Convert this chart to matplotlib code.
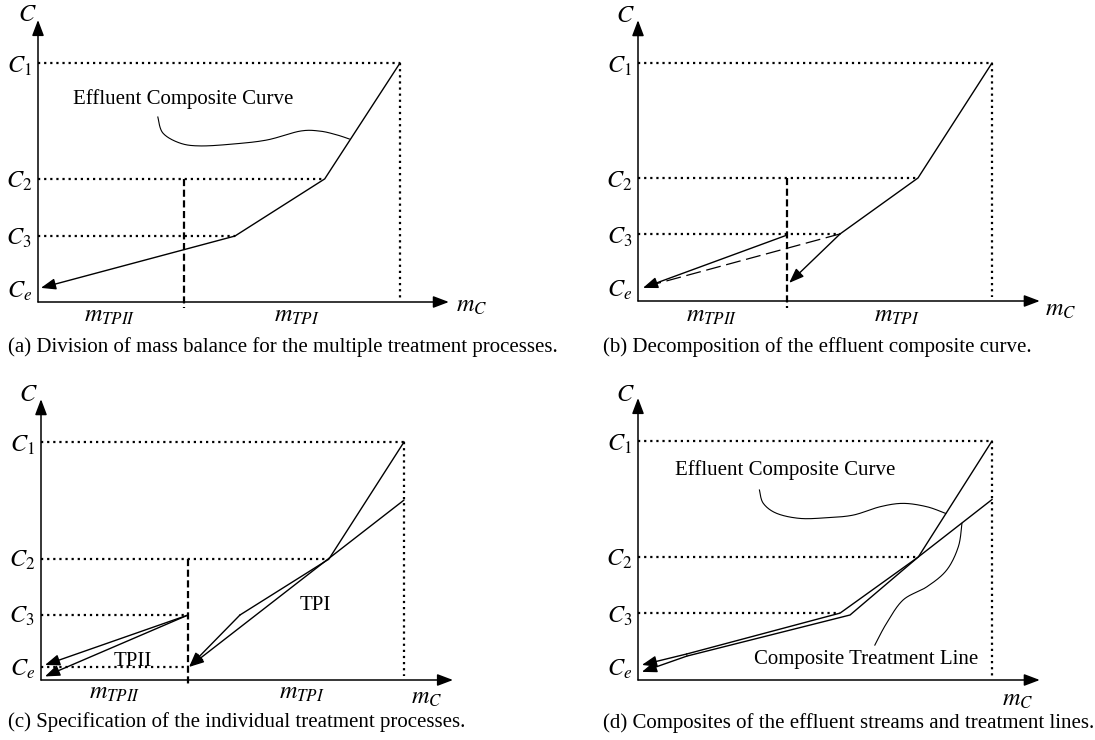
import numpy as np
import matplotlib
matplotlib.use("Agg")
import matplotlib.pyplot as plt

# ---------------- data (schematic units: C1 = 10, total mass = 10) ----------------
conc_levels = [10.0, 5.15, 2.8, 0.55]          # C1, C2, C3, Ce
conc_labels = ["$C_1$", "$C_2$", "$C_3$", "$C_e$"]
m_total = 10.0
treat_top = 7.55                               # treatment line at m_total

# (a) effluent composite curve
a_mass = [10.0, 7.92, 5.44, 0.08]
a_conc = [10.0, 5.15, 2.76, 0.59]
a_split = 4.03

# (b) decomposition
b_mass = [10.0, 7.91, 5.71]
b_conc = [10.0, 5.17, 2.82]
b_split = 4.21
b_tpi_end = [4.27, 0.76]
b_tpii_start = [4.21, 2.77]
b_tpii_end = [0.14, 0.55]
b_dash_end = [0.45, 0.70]

# (c) individual treatment processes
c_mass = [10.0, 7.93, 5.48, 4.08]
c_conc = [10.0, 5.08, 2.73, 0.55]
c_split = 4.05
c_tpi_mass = [10.0, 4.08]
c_tpi_conc = [7.56, 0.55]
c_tpii_start = [4.05, 2.73]
c_tpii_ends_mass = [0.11, 0.11]
c_tpii_ends_conc = [0.63, 0.15]

# (d) composites
d_eff_mass = [10.0, 7.92, 5.99, 1.38, 0.11]
d_eff_conc = [10.0, 5.15, 2.72, 1.00, 0.34]
d_trt_mass = [10.0, 7.92, 5.71, 1.38, 0.11]
d_trt_conc = [7.55, 5.15, 2.80, 1.09, 0.63]

captions = [
    "(a) Division of mass balance for the multiple treatment processes.",
    "(b) Decomposition of the effluent composite curve.",
    "(c) Specification of the individual treatment processes.",
    "(d) Composites of the effluent streams and treatment lines.",
]

# leader curves (annotation guides)
a_leader = [(3.31, 7.74), (3.45, 7.07), (3.92, 6.65), (4.48, 6.53), (5.39, 6.61),
            (6.33, 6.78), (7.24, 7.15), (7.79, 7.15), (8.26, 6.99), (8.60, 6.82)]
d_leader_eff = [(3.43, 7.95), (3.54, 7.39), (3.92, 6.97), (4.58, 6.76), (5.33, 6.79),
                (6.08, 6.90), (6.84, 7.25), (7.49, 7.39), (8.16, 7.25), (8.69, 6.97)]
d_leader_trt = [(6.69, 1.46), (7.02, 2.37), (7.49, 3.35), (8.16, 3.90), (8.72, 4.60),
                (9.05, 5.58), (9.15, 6.55)]

# ---------------- style ----------------
plt.rcParams["font.family"] = ["Liberation Serif", "DejaVu Serif"]
plt.rcParams["mathtext.fontset"] = "stix"
FS = 15
FSM = 17.5
W, H = 1095, 740
fig = plt.figure(figsize=(W / 100, H / 100), dpi=100)
fig.patch.set_facecolor("white")

X_TIP, Y_TIP = 11.35, 11.8
LW = 1.0
DOT = dict(color="k", lw=1.6, linestyle=(0, (1, 1.75)), dash_capstyle="butt", clip_on=False)
DASH = dict(color="k", lw=1.6, linestyle=(0, (3.2, 1.6)), dash_capstyle="butt", clip_on=False)


def make_ax(ox, oy, sx, sy):
    xmax, ymax = 11.5, 12.0
    ax = fig.add_axes([ox / W, 1 - oy / H, xmax * sx / W, ymax * sy / H])
    ax.set_xlim(0, xmax)
    ax.set_ylim(0, ymax)
    ax.set_axis_off()
    return ax


def arrow(ax, p0, p1, lw=LW):
    ax.annotate("", xy=p1, xytext=p0, annotation_clip=False,
                arrowprops=dict(arrowstyle="-|>,head_length=0.9,head_width=0.34",
                                mutation_scale=10, lw=lw, color="k",
                                shrinkA=0, shrinkB=0))


def polyline_arrow(ax, xs, ys):
    ax.plot(xs[:-1], ys[:-1], color="k", lw=LW, clip_on=False, solid_joinstyle="miter")
    arrow(ax, (xs[-2], ys[-2]), (xs[-1], ys[-1]))


def smooth(pts, n=24):
    pts = np.asarray(pts, float)
    P = np.vstack([pts[0], pts, pts[-1]])
    out = []
    t = np.linspace(0, 1, n, endpoint=False)[:, None]
    for i in range(1, len(P) - 2):
        p0, p1, p2, p3 = P[i - 1], P[i], P[i + 1], P[i + 2]
        out.append(0.5 * (2 * p1 + (-p0 + p2) * t + (2 * p0 - 5 * p1 + 4 * p2 - p3) * t ** 2
                          + (-p0 + 3 * p1 - 3 * p2 + p3) * t ** 3))
    out.append(P[-2][None])
    return np.vstack(out)


def frame(ax, level_x, c_xy, mc_xy, mc_ha="left", show_levels=(0, 1, 2, 3)):
    # axes arrows
    for tip in [(X_TIP, 0), (0, Y_TIP)]:
        ax.annotate("", xy=tip, xytext=(0, 0), annotation_clip=False,
                    arrowprops=dict(arrowstyle="-|>,head_length=0.95,head_width=0.36",
                                    mutation_scale=10, lw=1.1, color="k",
                                    shrinkA=0, shrinkB=0))
    ax.text(c_xy[0], c_xy[1], "$C$", fontsize=FSM, ha="center", va="center")
    ax.text(mc_xy[0], mc_xy[1], "$m_C$", fontsize=FSM, ha=mc_ha, va="center")
    for i in show_levels:
        ax.text(-0.17, conc_levels[i] - 0.12, conc_labels[i], fontsize=FSM,
                ha="right", va="center")
    # dotted guides
    ax.plot([0, m_total], [conc_levels[0]] * 2, **DOT)
    ax.plot([m_total, m_total], [conc_levels[0], 0.15], **DOT)
    for lvl, xe in level_x:
        ax.plot([0, xe], [lvl, lvl], **DOT)


# ---------------- panel (a) ----------------
ax = make_ax(38, 302, 36.2, 23.9)
frame(ax, [(a_conc[1], a_mass[1]), (a_conc[2], a_mass[2])], (-0.3, 12.0), (11.55, -0.2))
ax.plot([a_split, a_split], [a_conc[1], -0.25], **DASH)
polyline_arrow(ax, a_mass, a_conc)
ax.text(4.0, 8.49, "Effluent Composite Curve", fontsize=FS, ha="center", va="center")
L = smooth(a_leader)
ax.plot(L[:, 0], L[:, 1], color="k", lw=0.8, clip_on=False)
ax.text(1.99, -0.62, "$m_{TPII}$", fontsize=FSM, ha="center", va="center")
ax.text(7.15, -0.62, "$m_{TPI}$", fontsize=FSM, ha="center", va="center")

# ---------------- panel (b) ----------------
ax = make_ax(638, 301, 35.4, 23.8)
frame(ax, [(b_conc[1], b_mass[1]), (b_conc[2], b_mass[2])], (-0.37, 11.95), (11.5, -0.38))
ax.plot([b_split, b_split], [b_conc[1], -0.3], **DASH)
ax.plot(b_mass, b_conc, color="k", lw=LW, clip_on=False)
arrow(ax, (b_mass[-1], b_conc[-1]), b_tpi_end)
arrow(ax, b_tpii_start, b_tpii_end)
ax.plot([b_mass[-1], b_dash_end[0]], [b_conc[-1], b_dash_end[1]], color="k", lw=0.9,
        linestyle=(0, (12, 4.5)), clip_on=False)
ax.text(2.09, -0.67, "$m_{TPII}$", fontsize=FSM, ha="center", va="center")
ax.text(7.32, -0.67, "$m_{TPI}$", fontsize=FSM, ha="center", va="center")

# ---------------- panel (c) ----------------
ax = make_ax(41, 680, 36.3, 23.8)
frame(ax, [(c_conc[1], c_mass[1]), (c_conc[2], c_split), (c_conc[3], c_split)],
      (-0.36, 11.97), (10.63, -0.78), mc_ha="center")
ax.plot([c_split, c_split], [c_conc[1], -0.29], **DASH)
polyline_arrow(ax, c_mass, c_conc)
arrow(ax, (c_tpi_mass[0], c_tpi_conc[0]), (c_tpi_mass[1], c_tpi_conc[1]))
for xe, ye in zip(c_tpii_ends_mass, c_tpii_ends_conc):
    arrow(ax, c_tpii_start, (xe, ye))
ax.text(7.55, 3.15, "TPI", fontsize=FS, ha="center", va="center")
ax.text(2.53, 0.78, "TPII", fontsize=FS, ha="center", va="center")
ax.text(2.04, -0.58, "$m_{TPII}$", fontsize=FSM, ha="center", va="center")
ax.text(7.2, -0.58, "$m_{TPI}$", fontsize=FSM, ha="center", va="center")

# ---------------- panel (d) ----------------
ax = make_ax(638, 680, 35.4, 23.9)
frame(ax, [(d_eff_conc[1], d_eff_mass[1]), (d_trt_conc[2], d_trt_mass[2])],
      (-0.37, 11.9), (10.73, -0.84), mc_ha="center")
polyline_arrow(ax, d_eff_mass, d_eff_conc)
polyline_arrow(ax, d_trt_mass, d_trt_conc)
ax.text(4.15, 8.79, "Effluent Composite Curve", fontsize=FS, ha="center", va="center")
ax.text(6.44, 0.84, "Composite Treatment Line", fontsize=FS, ha="center", va="center")
for pts in (d_leader_eff, d_leader_trt):
    L = smooth(pts)
    ax.plot(L[:, 0], L[:, 1], color="k", lw=0.8, clip_on=False)

# ---------------- captions ----------------
cap_pos = [(8, 347), (603, 347), (8, 722), (603, 723)]
for (px, py), cap in zip(cap_pos, captions):
    fig.text(px / W, 1 - py / H, cap, fontsize=FS, ha="left", va="center")

fig.savefig("out.png", dpi=100, facecolor="white")
